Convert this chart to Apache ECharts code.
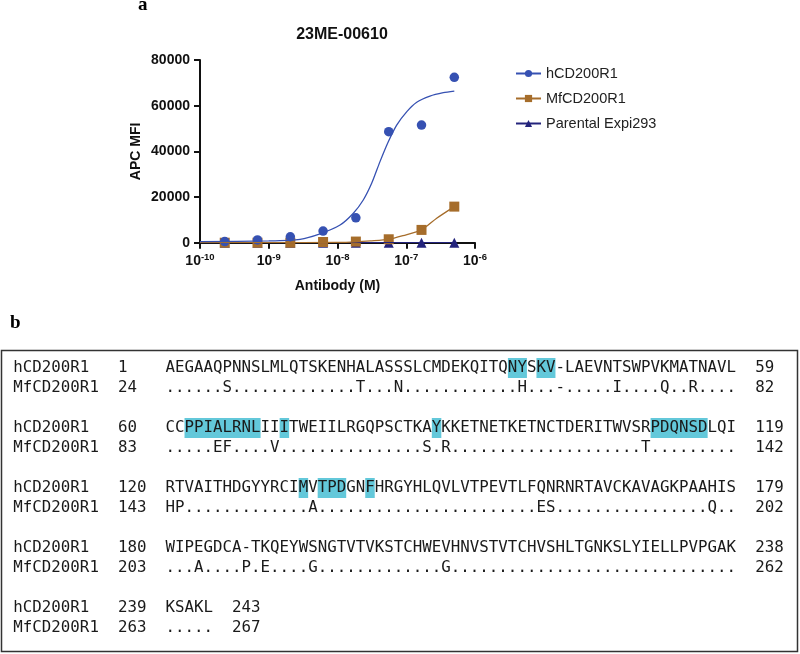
<!DOCTYPE html>
<html>
<head>
<meta charset="utf-8">
<script src="https://cdn.jsdelivr.net/npm/echarts@6/dist/echarts.min.js"></script>
<style>
  html, body { margin: 0; padding: 0; background: #fff; }
  #main { width: 800px; height: 654px; }
</style>
</head>
<body>
<div id="main"></div>
<script>
// 抗体浓度 (M)，3 倍稀释
var conc = [2.29e-10, 6.86e-10, 2.06e-9, 6.17e-9, 1.85e-8, 5.56e-8, 1.667e-7, 5e-7];
var hMFI = [500, 1200, 2600, 5100, 10900, 48600, 51500, 72400];
var mfMFI = [0, 0, 0, 300, 500, 1500, 5600, 15800];
var parMFI = [30, 30, 30, 30, 30, 30, 30, 30];

// 拟合曲线
var hFitX = [1e-10, 1e-9, 2.85e-9, 5.56e-9, 1.09e-8, 1.7e-8, 2.37e-8, 3.14e-8, 4.15e-8, 5.48e-8, 7.26e-8, 1.02e-7, 1.42e-7, 2.21e-7, 3.46e-7, 5e-7];
var hFitY = [450, 800, 1500, 3900, 7750, 12900, 18700, 26000, 35500, 44200, 51500, 57400, 61500, 64200, 65700, 66400];
var mfFitX = [1e-10, 1e-9, 1e-8, 1.85e-8, 3e-8, 5.56e-8, 9e-8, 1.667e-7, 2.77e-7, 5e-7];
var mfFitY = [0, 0, 150, 400, 800, 1500, 3100, 5600, 10700, 15800];
var parFitX = [1e-10, 5e-7];
var parFitY = [30, 30];

var yTicks = [0, 20000, 40000, 60000, 80000];
var xExp = [-10, -9, -8, -7, -6];

// 序列比对
var hName = 'hCD200R1';
var mfName = 'MfCD200R1';
var hSeq = [
  'AEGAAQPNNSLMLQTSKENHALASSSLCMDEKQITQNYSKV-LAEVNTSWPVKMATNAVL',
  'CCPPIALRNLIIITWEIILRGQPSCTKAYKKETNETKETNCTDERITWVSRPDQNSDLQI',
  'RTVAITHDGYYRCIMVTPDGNFHRGYHLQVLVTPEVTLFQNRNRTAVCKAVAGKPAAHIS',
  'WIPEGDCA-TKQEYWSNGTVTVKSTCHWEVHNVSTVTCHVSHLTGNKSLYIELLPVPGAK',
  'KSAKL'
];
var mfSeq = [
  '......S.............T...N............H...-.....I....Q..R....',
  '.....EF....V...............S.R....................T.........',
  'HP.............A.......................ES................Q..',
  '...A....P.E....G.............G..............................',
  '.....'
];
var hStart = [1, 60, 120, 180, 239];
var hEnd = [59, 119, 179, 238, 243];
var mfStart = [24, 83, 143, 203, 263];
var mfEnd = [82, 142, 202, 262, 267];
// [行, 起始位置, 长度]
var highlights = [[0, 36, 2], [0, 39, 2], [1, 2, 8], [1, 12, 1], [1, 28, 1], [1, 51, 6], [2, 14, 1], [2, 16, 3], [2, 21, 1]];

var blue = '#3651b2';
var brown = '#a66d2b';
var navy = '#24247c';
var sans = 'Liberation Sans';
var mono = 'DejaVu Sans Mono';

function pairs(xs, ys) {
  return xs.map(function (x, i) { return [x, ys[i]]; });
}

var chart = echarts.init(document.getElementById('main'));

// 比对区域
var fs = 15.8;
var cw = fs * 0.602;
var x0 = 13.3;
var seqX = x0 + 16 * cw;
var graphics = [];
graphics.push({ type: 'text', left: 138, top: -4, style: { text: 'a', fontSize: 19, fontWeight: 'bold', fontFamily: 'Liberation Serif', fill: '#000' } });
graphics.push({ type: 'text', left: 10, top: 314, style: { text: 'b', fontSize: 19, fontWeight: 'bold', fontFamily: 'Liberation Serif', fill: '#000' } });
graphics.push({ type: 'rect', shape: { x: 1.5, y: 350.5, width: 796, height: 301 }, style: { fill: 'none', stroke: '#333', lineWidth: 1.5 } });

highlights.forEach(function (h) {
  var cy = 368 + h[0] * 60;
  graphics.push({ type: 'rect', shape: { x: seqX + h[1] * cw, y: cy - 10, width: h[2] * cw, height: 20 }, style: { fill: '#63c8da' } });
});

function line(y, parts) {
  parts.forEach(function (p) {
    graphics.push({ type: 'text', x: p[0], y: y, style: { text: p[1], fontSize: fs, fontFamily: mono, fill: '#1a1a1a', verticalAlign: 'middle' } });
  });
}
hSeq.forEach(function (s, r) {
  var y = 368 + r * 60;
  var endX = seqX + (s.length + 2) * cw;
  line(y, [[x0, hName], [x0 + 11 * cw, String(hStart[r])], [seqX, s], [endX, String(hEnd[r])]]);
  line(y + 20, [[x0, mfName], [x0 + 11 * cw, String(mfStart[r])], [seqX, mfSeq[r]], [endX, String(mfEnd[r])]]);
});

var option = {
  backgroundColor: '#fff',
  animation: false,
  title: {
    text: '23ME-00610',
    left: 337, top: 22, textAlign: 'center',
    textStyle: { fontFamily: sans, fontWeight: 'bold', fontSize: 16, color: '#111' }
  },
  legend: {
    orient: 'vertical',
    left: 515, top: 66, padding: 0,
    itemWidth: 25, itemHeight: 9, itemGap: 10,
    data: ['hCD200R1', 'MfCD200R1', 'Parental Expi293'],
    textStyle: { fontFamily: sans, fontSize: 14.5, color: '#222' }
  },
  grid: { left: 200, right: 325, top: 60, bottom: 411.3 },
  xAxis: {
    type: 'log', logBase: 10, min: 1e-10, max: 1e-6,
    name: 'Antibody (M)', nameLocation: 'middle', nameGap: 36,
    nameTextStyle: { fontFamily: sans, fontWeight: 'bold', fontSize: 14, color: '#111' },
    axisLine: { lineStyle: { color: '#111', width: 2 } },
    axisTick: { length: 6, lineStyle: { width: 2 } },
    minorTick: { show: false },
    splitLine: { show: false },
    axisLabel: {
      margin: 10,
      formatter: function (v) {
        var e = Math.round(Math.log10(v));
        return xExp.indexOf(e) < 0 ? '' : '{b|10}{s|' + e + '}';
      },
      rich: {
        b: { fontFamily: sans, fontWeight: 'bold', fontSize: 14, color: '#111' },
        s: { fontFamily: sans, fontWeight: 'bold', fontSize: 9.5, color: '#111', padding: [0, 0, 7, 0] }
      }
    }
  },
  yAxis: {
    type: 'value', min: yTicks[0], max: yTicks[yTicks.length - 1], interval: 20000,
    name: 'APC MFI', nameLocation: 'middle', nameGap: 57,
    nameTextStyle: { fontFamily: sans, fontWeight: 'bold', fontSize: 14, color: '#111' },
    axisLine: { show: true, lineStyle: { color: '#111', width: 2 } },
    axisTick: { show: true, length: 6, lineStyle: { width: 2 } },
    splitLine: { show: false },
    axisLabel: {
      margin: 10, fontFamily: sans, fontWeight: 'bold', fontSize: 14, color: '#111',
      formatter: function (v) { return String(v); }
    }
  },
  series: [
    { name: 'Parental Expi293', type: 'line', data: pairs(parFitX, parFitY), showSymbol: false, symbol: 'triangle', symbolSize: 10, color: navy, lineStyle: { width: 1.3 } },
    { name: 'Parental Expi293', type: 'scatter', data: pairs(conc, parMFI), symbol: 'triangle', symbolSize: 10, color: navy, itemStyle: { opacity: 1 } },
    { name: 'MfCD200R1', type: 'line', data: pairs(mfFitX, mfFitY), smooth: 0.25, showSymbol: false, symbol: 'rect', symbolSize: 10, color: brown, lineStyle: { width: 1.3 } },
    { name: 'MfCD200R1', type: 'scatter', data: pairs(conc, mfMFI), symbol: 'rect', symbolSize: 10, color: brown, itemStyle: { opacity: 1 } },
    { name: 'hCD200R1', type: 'line', data: pairs(hFitX, hFitY), smooth: 0.25, showSymbol: false, symbol: 'circle', symbolSize: 9, color: blue, lineStyle: { width: 1.3 } },
    { name: 'hCD200R1', type: 'scatter', data: pairs(conc, hMFI), symbol: 'circle', symbolSize: 9.5, color: blue, itemStyle: { opacity: 1 } }
  ],
  graphic: graphics
};

chart.setOption(option);
</script>
</body>
</html>
